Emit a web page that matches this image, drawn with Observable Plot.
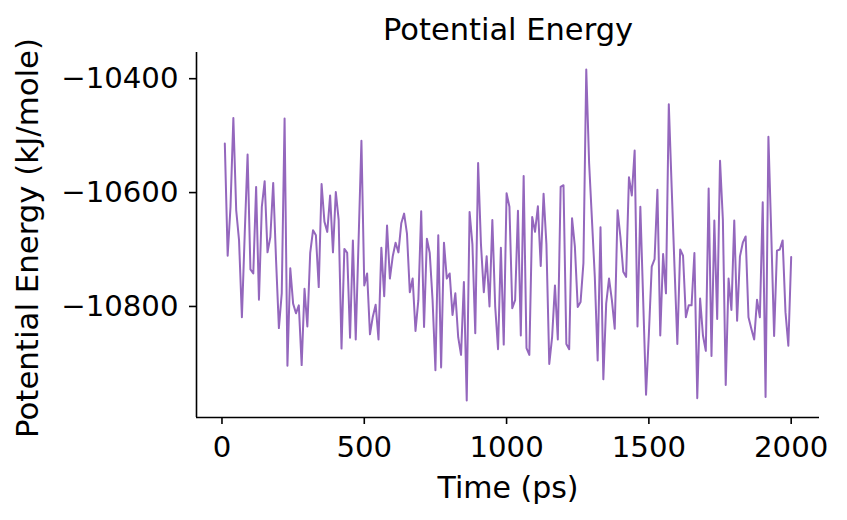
<!DOCTYPE html>
<html>
<head>
<meta charset="utf-8">
<script src="https://cdn.jsdelivr.net/npm/d3@7"></script>
<script src="https://cdn.jsdelivr.net/npm/@observablehq/plot@0.6"></script>
<style>
  html, body { margin: 0; padding: 0; background: #ffffff; }
  #chart { width: 847px; height: 520px; }
</style>
</head>
<body>
<div id="chart"></div>
<script>
// ---- data ----
const titleText = "Potential Energy";
const xLabel = "Time (ps)";
const yLabel = "Potential Energy (kJ/mole)";

const timePs = [
  10,20,30,40,50,60,70,80,90,100,110,120,130,140,150,160,170,180,190,200,
  210,220,230,240,250,260,270,280,290,300,310,320,330,340,350,360,370,380,390,400,
  410,420,430,440,450,460,470,480,490,500,510,520,530,540,550,560,570,580,590,600,
  610,620,630,640,650,660,670,680,690,700,710,720,730,740,750,760,770,780,790,800,
  810,820,830,840,850,860,870,880,890,900,910,920,930,940,950,960,970,980,990,1000,
  1010,1020,1030,1040,1050,1060,1070,1080,1090,1100,1110,1120,1130,1140,1150,1160,1170,1180,1190,1200,
  1210,1220,1230,1240,1250,1260,1270,1280,1290,1300,1310,1320,1330,1340,1350,1360,1370,1380,1390,1400,
  1410,1420,1430,1440,1450,1460,1470,1480,1490,1500,1510,1520,1530,1540,1550,1560,1570,1580,1590,1600,
  1610,1620,1630,1640,1650,1660,1670,1680,1690,1700,1710,1720,1730,1740,1750,1760,1770,1780,1790,1800,
  1810,1820,1830,1840,1850,1860,1870,1880,1890,1900,1910,1920,1930,1940,1950,1960,1970,1980,1990,2000
];

const energyKJ = [
  -10514,-10711,-10625,-10469,-10631,-10684,-10819,-10672,-10533,-10735,
  -10742,-10590,-10788,-10625,-10580,-10705,-10678,-10583,-10718,-10838,
  -10777,-10470,-10904,-10733,-10795,-10812,-10798,-10903,-10769,-10835,
  -10706,-10666,-10675,-10766,-10585,-10651,-10669,-10605,-10705,-10599,
  -10648,-10874,-10699,-10706,-10855,-10684,-10858,-10684,-10509,-10763,
  -10742,-10849,-10818,-10797,-10858,-10697,-10782,-10658,-10751,-10712,
  -10688,-10705,-10654,-10637,-10672,-10775,-10751,-10843,-10789,-10633,
  -10836,-10681,-10706,-10789,-10912,-10675,-10907,-10688,-10751,-10742,
  -10815,-10777,-10854,-10885,-10757,-10965,-10634,-10691,-10847,-10548,
  -10691,-10775,-10712,-10800,-10648,-10800,-10875,-10697,-10867,-10601,
  -10625,-10803,-10789,-10632,-10851,-10571,-10873,-10885,-10643,-10669,
  -10624,-10729,-10602,-10691,-10901,-10854,-10763,-10858,-10590,-10587,
  -10866,-10875,-10645,-10695,-10801,-10792,-10724,-10384,-10548,-10648,
  -10748,-10895,-10661,-10928,-10795,-10751,-10789,-10839,-10631,-10678,
  -10739,-10748,-10573,-10605,-10526,-10835,-10625,-10789,-10955,-10848,
  -10730,-10717,-10595,-10851,-10708,-10777,-10445,-10590,-10730,-10866,
  -10700,-10711,-10819,-10798,-10798,-10706,-10961,-10786,-10851,-10878,
  -10593,-10887,-10649,-10822,-10544,-10648,-10938,-10751,-10806,-10649,
  -10825,-10712,-10688,-10677,-10819,-10839,-10858,-10788,-10819,-10617,
  -10959,-10502,-10672,-10852,-10702,-10700,-10684,-10810,-10869,-10713
];

const xTicks = [0, 500, 1000, 1500, 2000];
const yTicks = [-10800, -10600, -10400];

const xDomain = [-89.5, 2099.5];
const yDomain = [-10995, -10354];

const lineColor = "#9467bd";
const fontFamily = "DejaVu Sans";

const fmtY = d => String(d).replace("-", "\u2212");

const chart = Plot.plot({
  width: 847,
  height: 520,
  marginLeft: 196,
  marginRight: 28,
  marginTop: 52,
  marginBottom: 103,
  style: { fontFamily, background: "#ffffff", color: "#000000", overflow: "visible" },
  x: { domain: xDomain, label: null },
  y: { domain: yDomain, label: null },
  marks: [
    Plot.line(timePs, { x: timePs, y: energyKJ, stroke: lineColor, strokeWidth: 2 }),
    Plot.ruleX([xDomain[0]], { stroke: "#000000", strokeWidth: 1.6 }),
    Plot.ruleY([yDomain[0]], { stroke: "#000000", strokeWidth: 1.6 }),
    Plot.axisX({ ticks: xTicks, tickSize: 7, tickPadding: 12, fontSize: 29.2, strokeWidth: 1.6,
                 tickFormat: d => String(d), label: null }),
    Plot.axisY({ ticks: yTicks, tickSize: 7, tickPadding: 11, fontSize: 29.2, strokeWidth: 1.6,
                 tickFormat: fmtY, label: null }),
    Plot.text([titleText], { frameAnchor: "top", lineAnchor: "bottom", dy: -13, fontSize: 30.5, fill: "#000000" }),
    Plot.text([xLabel], { frameAnchor: "bottom", lineAnchor: "bottom", dy: 80, fontSize: 30, fill: "#000000" }),
    Plot.text([yLabel], { frameAnchor: "left", textAnchor: "middle", lineAnchor: "bottom", rotate: -90,
                          dx: -159, dy: 3, fontSize: 30.8, fill: "#000000" })
  ]
});

document.getElementById("chart").appendChild(chart);
</script>
</body>
</html>
